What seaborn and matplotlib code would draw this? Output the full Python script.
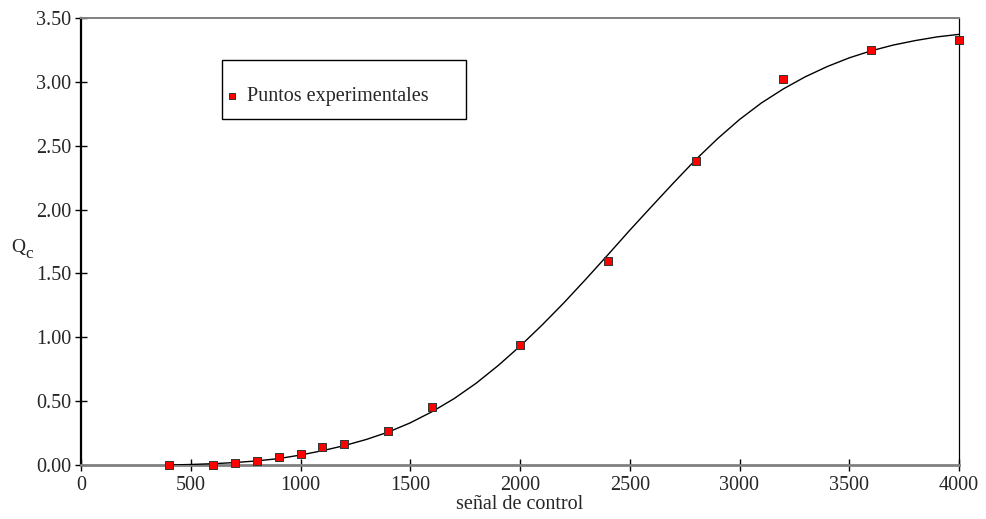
import matplotlib
matplotlib.use("Agg")
import matplotlib.pyplot as plt
from matplotlib.patches import Rectangle
import seaborn as sns
import pandas as pd

# Experimental points
senal = [400, 600, 700, 800, 900, 1000, 1100, 1200, 1400, 1600,
         2000, 2400, 2800, 3200, 3600, 4000]
qc = [0.00, 0.00, 0.013, 0.03, 0.06, 0.084, 0.14, 0.162, 0.269, 0.452,
      0.94, 1.60, 2.38, 3.02, 3.25, 3.33]

# Fitted curve
curva_x = [400, 500, 600, 700, 800, 900, 1000, 1100, 1200, 1300, 1400,
           1500, 1600, 1700, 1800, 1900, 2000, 2100, 2200, 2300, 2400,
           2500, 2600, 2700, 2800, 2900, 3000, 3100, 3200, 3300, 3400,
           3500, 3600, 3700, 3800, 3900, 4000]
curva_y = [0.000, 0.004, 0.010, 0.019, 0.032, 0.050, 0.078, 0.112, 0.152,
           0.200, 0.258, 0.330, 0.418, 0.520, 0.640, 0.778, 0.930, 1.095,
           1.270, 1.455, 1.645, 1.838, 2.025, 2.210, 2.390, 2.555, 2.705,
           2.835, 2.945, 3.040, 3.120, 3.188, 3.243, 3.288, 3.323, 3.352,
           3.372]

x_ticks = [0, 500, 1000, 1500, 2000, 2500, 3000, 3500, 4000]
y_ticks = [0.0, 0.5, 1.0, 1.5, 2.0, 2.5, 3.0, 3.5]

sns.set_theme(style="white")
plt.rcParams["font.family"] = ["Liberation Serif", "DejaVu Serif"]

FS = 14.5
W, H = 987, 519
fig = plt.figure(figsize=(W / 100, H / 100), dpi=100)
ax = fig.add_axes([81 / W, 54 / H, (959 - 81) / W, (465 - 18) / H])

df_pts = pd.DataFrame({"senal": senal, "qc": qc})
df_fit = pd.DataFrame({"x": curva_x, "y": curva_y})

sns.lineplot(data=df_fit, x="x", y="y", ax=ax, color="black", lw=1.0,
             estimator=None, sort=True, zorder=3)
sns.scatterplot(data=df_pts, x="senal", y="qc", ax=ax, marker="s", s=27,
                color="#ff0000", edgecolor="#333333", linewidth=0.7,
                zorder=5, clip_on=False, label="Puntos experimentales")

ax.set_xlim(0, 4000)
ax.set_ylim(0, 3.5)
ax.set_xticks(x_ticks)
ax.set_xticklabels([str(v) for v in x_ticks])
ax.set_yticks(y_ticks)
ax.set_yticklabels([f"{v:.2f}" for v in y_ticks])
ax.tick_params(axis="x", direction="inout", length=8.5, width=1.0,
               color="black", labelsize=FS, pad=4, bottom=True)
ax.tick_params(axis="y", direction="inout", length=8, width=1.0,
               color="black", labelsize=FS, pad=3, left=True)

for side, col, lw in [("top", "#808080", 1.4), ("bottom", "#808080", 2.0),
                      ("left", "black", 1.6), ("right", "black", 0.9)]:
    ax.spines[side].set_visible(True)
    ax.spines[side].set_color(col)
    ax.spines[side].set_linewidth(lw)

ax.set_xlabel("señal de control", fontsize=FS, labelpad=0)
ax.set_ylabel("")
fig.text(11 / W, 1 - 252 / H, "Q", fontsize=FS - 0.5, ha="left",
         va="baseline")
fig.text(25.5 / W, 1 - 258 / H, "c", fontsize=FS - 2, ha="left",
         va="baseline")

# Legend with its own frame
ax.legend(loc="center left", bbox_to_anchor=(226.6 / W, 1 - 96.7 / H),
          bbox_transform=fig.transFigure, frameon=False, fontsize=FS,
          handlelength=0.55, handletextpad=0.45, borderpad=0,
          borderaxespad=0, markerscale=0.8)
fig.patches.append(Rectangle((222 / W, 1 - 119 / H), 244 / W, 59 / H,
                             transform=fig.transFigure, fill=False,
                             edgecolor="black", linewidth=1.0))

fig.savefig("out.png", dpi=100)
